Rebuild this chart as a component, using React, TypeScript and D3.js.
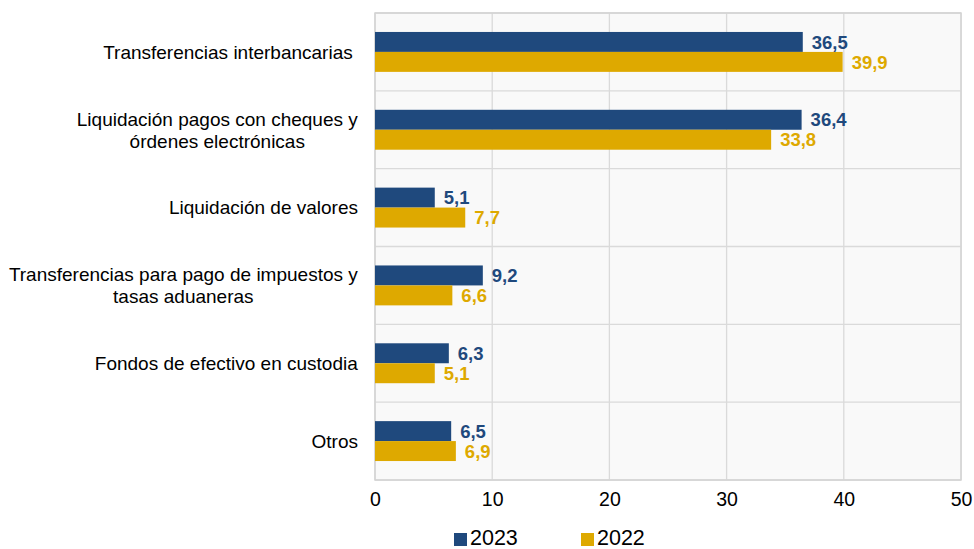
import { useEffect, useRef } from 'react';
import * as d3 from 'd3';

const categories: string[][] = [
  ['Transferencias interbancarias '],
  ['Liquidación pagos con cheques y', 'órdenes electrónicas'],
  ['Liquidación de valores'],
  ['Transferencias para pago de impuestos y', 'tasas aduaneras'],
  ['Fondos de efectivo en custodia'],
  ['Otros'],
];
const series = ['2023', '2022'];
const values2023 = [36.5, 36.4, 5.1, 9.2, 6.3, 6.5];
const values2022 = [39.9, 33.8, 7.7, 6.6, 5.1, 6.9];
const xTicks = [0, 10, 20, 30, 40, 50];

const colors: Record<string, string> = { '2023': '#1F497D', '2022': '#DEA900' };
const FONT = 'Arial, "Liberation Sans", sans-serif';

const App = () => {
  const svgRef = useRef<SVGSVGElement>(null);
  const width = 974;
  const height = 549;

  useEffect(() => {
    const svg = d3.select(svgRef.current);
    svg.selectAll('*').remove();

    const margin = { top: 13, right: 13, bottom: 69, left: 375 };
    const plotW = width - margin.left - margin.right;
    const plotH = height - margin.top - margin.bottom;

    const g = svg.append('g').attr('transform', `translate(${margin.left},${margin.top})`);

    const idx = categories.map((_, i) => String(i));
    const y = d3.scaleBand().domain(idx).range([0, plotH]).padding(0);
    const ySub = d3.scaleBand().domain(series).range([0, y.bandwidth()]).paddingInner(0).paddingOuter(0.95);
    const x = d3.scaleLinear().domain([0, 50]).range([0, plotW]);

    // Plot background
    g.append('rect')
      .attr('width', plotW)
      .attr('height', plotH)
      .attr('fill', '#f9f9f9');

    // Vertical grid
    g.selectAll('.vgrid')
      .data(xTicks)
      .enter()
      .append('line')
      .attr('x1', d => x(d))
      .attr('x2', d => x(d))
      .attr('y1', 0)
      .attr('y2', plotH)
      .attr('stroke', '#dadada')
      .attr('stroke-width', 1.3);

    // Horizontal band separators
    g.selectAll('.hgrid')
      .data(d3.range(categories.length + 1))
      .enter()
      .append('line')
      .attr('x1', 0)
      .attr('x2', plotW)
      .attr('y1', d => d * y.step())
      .attr('y2', d => d * y.step())
      .attr('stroke', '#dadada')
      .attr('stroke-width', 1.3);

    g.append('rect')
      .attr('width', plotW)
      .attr('height', plotH)
      .attr('fill', 'none')
      .attr('stroke', '#d4d4d4')
      .attr('stroke-width', 1.5);

    const rows = categories.flatMap((_, i) => [
      { cat: String(i), s: '2023', v: values2023[i] },
      { cat: String(i), s: '2022', v: values2022[i] },
    ]);

    // Bars
    g.selectAll('.bar')
      .data(rows)
      .enter()
      .append('rect')
      .attr('x', 0)
      .attr('y', d => (y(d.cat) ?? 0) + (ySub(d.s) ?? 0))
      .attr('width', d => x(d.v))
      .attr('height', ySub.bandwidth())
      .attr('fill', d => colors[d.s]);

    // Value labels
    g.selectAll('.bar-label')
      .data(rows)
      .enter()
      .append('text')
      .attr('x', d => x(d.v) + 9)
      .attr('y', d => (y(d.cat) ?? 0) + (ySub(d.s) ?? 0) + ySub.bandwidth() / 2)
      .attr('dy', '0.36em')
      .style('font-family', FONT)
      .style('font-size', '18.5px')
      .style('font-weight', 'bold')
      .style('fill', d => colors[d.s])
      .text(d => d3.format('.1f')(d.v).replace('.', ','));

    // Category labels (lines centred, block right-aligned)
    const cat = g.selectAll('.cat')
      .data(categories)
      .enter()
      .append('text')
      .attr('text-anchor', 'middle')
      .style('font-family', FONT)
      .style('font-size', '19px')
      .style('white-space', 'pre')
      .style('fill', '#000');

    cat.each(function (lines, i) {
      const t = d3.select(this);
      const n = lines.length;
      lines.forEach((l, j) => {
        t.append('tspan')
          .attr('x', 0)
          .attr('y', (j - (n - 1) / 2) * 22)
          .attr('dy', '0.36em')
          .text(l);
      });
      const bb = (this as SVGTextElement).getBBox();
      t.attr('transform', `translate(${-17 - bb.width / 2},${(y(String(i)) ?? 0) + y.bandwidth() / 2})`);
    });

    // X axis
    const xAxis = g.append('g')
      .attr('transform', `translate(0,${plotH})`)
      .call(d3.axisBottom(x).tickValues(xTicks).tickSize(0).tickPadding(12));
    xAxis.select('.domain').remove();
    xAxis.selectAll('text')
      .style('font-family', FONT)
      .style('font-size', '19.5px')
      .style('fill', '#000');

    // Legend
    const legend = svg.append('g').attr('transform', `translate(454,0)`);
    const items = legend.selectAll('.leg')
      .data(series)
      .enter()
      .append('g')
      .attr('transform', (_, i) => `translate(${i * 127},0)`);
    items.append('rect')
      .attr('x', 0)
      .attr('y', 533)
      .attr('width', 13)
      .attr('height', 13)
      .attr('fill', d => colors[d]);
    items.append('text')
      .attr('x', 16)
      .attr('y', 545)
      .style('font-family', FONT)
      .style('font-size', '21.5px')
      .style('fill', '#000')
      .text(d => d);
  }, []);

  return (
    <svg
      ref={svgRef}
      width={width}
      height={height}
      style={{ position: 'absolute', left: 0, top: 0, background: '#fff' }}
    />
  );
};

export default App;
